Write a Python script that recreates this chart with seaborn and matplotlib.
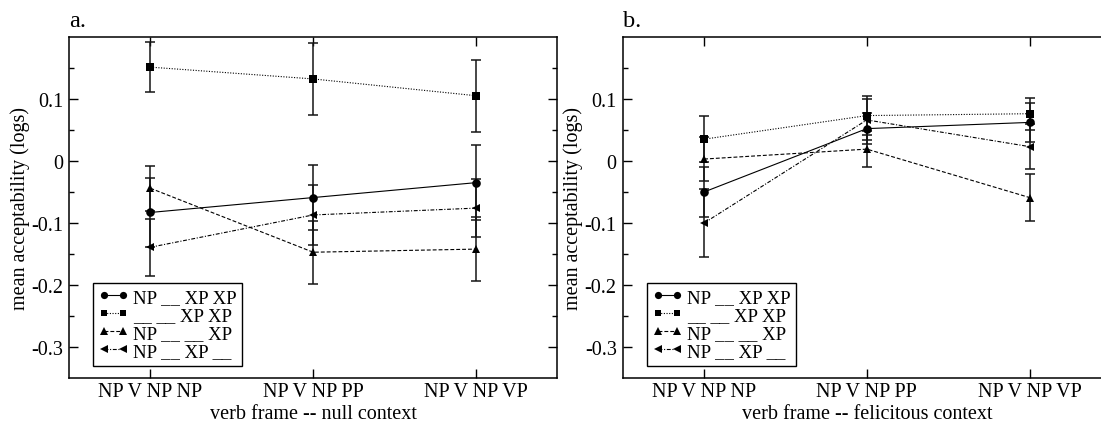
import matplotlib
matplotlib.use("Agg")
import matplotlib.pyplot as plt
from matplotlib.lines import Line2D
from matplotlib.ticker import FixedLocator
import pandas as pd
import seaborn as sns

# verb frames on the x axis
frames = ["NP V NP NP", "NP V NP PP", "NP V NP VP"]
# condition names (legend labels)
conditions = ["NP __ XP XP", "__ __ XP XP", "NP __ __ XP", "NP __ XP __"]
y_ticks = [-0.3, -0.2, -0.1, 0.0, 0.1]
y_tick_labels = ["-0.3", "-0.2", "-0.1", "0", "0.1"]

# a. null context: means and error-bar half widths
null_np_xp_xp = [-0.083, -0.059, -0.035]
null_np_xp_xp_err = [0.055, 0.053, 0.060]
null_xp_xp = [0.151, 0.132, 0.105]
null_xp_xp_err = [0.040, 0.058, 0.058]
null_np_xp = [-0.044, -0.147, -0.142]
null_np_xp_err = [0.036, 0.051, 0.052]
null_np_xp_gap = [-0.139, -0.087, -0.076]
null_np_xp_gap_err = [0.046, 0.048, 0.047]

# b. felicitous context: means and error-bar half widths
fel_np_xp_xp = [-0.050, 0.052, 0.062]
fel_np_xp_xp_err = [0.041, 0.025, 0.031]
fel_xp_xp = [0.035, 0.073, 0.076]
fel_xp_xp_err = [0.037, 0.032, 0.026]
fel_np_xp = [0.003, 0.019, -0.059]
fel_np_xp_err = [0.036, 0.029, 0.038]
fel_np_xp_gap = [-0.100, 0.066, 0.023]
fel_np_xp_gap_err = [0.055, 0.033, 0.036]

panels = [
    ("a.", "verb frame -- null context",
     [null_np_xp_xp, null_xp_xp, null_np_xp, null_np_xp_gap],
     [null_np_xp_xp_err, null_xp_xp_err, null_np_xp_err, null_np_xp_gap_err]),
    ("b.", "verb frame -- felicitous context",
     [fel_np_xp_xp, fel_xp_xp, fel_np_xp, fel_np_xp_gap],
     [fel_np_xp_xp_err, fel_xp_xp_err, fel_np_xp_err, fel_np_xp_gap_err]),
]

sns.set_theme(style="ticks", rc={
    "axes.edgecolor": "black",
    "axes.labelcolor": "black",
    "text.color": "black",
    "xtick.color": "black",
    "ytick.color": "black",
    "axes.linewidth": 1.1,
})
plt.rcParams["font.family"] = ["Liberation Serif", "DejaVu Serif"]

marker_map = dict(zip(conditions, ["o", "s", "^", "<"]))
dash_map = dict(zip(conditions, ["", (1, 1.4), (3.5, 1.8), (3.5, 1.5, 1, 1.5)]))
msize = {"o": 6.2, "s": 5.4, "^": 6.2, "<": 6.2}
leg_msize = {"o": 5.2, "s": 4.6, "^": 5.2, "<": 5.2}

FS = 14.5
fig = plt.figure(figsize=(11.01, 4.31), dpi=100)
W, H = 1101.0, 431.0
ax_w, ax_h = 488.3 / W, 341.6 / H
ax_b = 1 - 379.3 / H
axes = [fig.add_axes([69.0 / W, ax_b, ax_w, ax_h]),
        fig.add_axes([622.7 / W, ax_b, ax_w, ax_h])]

for ax, (tag, xlabel, means, errs) in zip(axes, panels):
    rows = []
    for cond, vals in zip(conditions, means):
        for fr, v in zip(frames, vals):
            rows.append({"frame": fr, "condition": cond, "value": v})
    df = pd.DataFrame(rows)

    # error bars behind the lines and markers
    for vals, err in zip(means, errs):
        ax.errorbar(frames, vals, yerr=err, fmt="none", ecolor="#151515",
                    elinewidth=1.1, capsize=3.4, capthick=1.1, zorder=1)

    sns.lineplot(data=df, x="frame", y="value", style="condition",
                 style_order=conditions, markers=marker_map, dashes=dash_map,
                 color="black", linewidth=0.8, markersize=6,
                 markeredgewidth=0, sort=False, legend=False, ax=ax, zorder=3)
    for line, cond in zip(ax.get_lines()[-len(conditions):], conditions):
        line.set_markersize(msize[marker_map[cond]])
        line.set_markerfacecolor("black")
        line.set_markeredgecolor("black")

    ax.set_xlim(-0.5, 2.5)
    ax.set_ylim(-0.35, 0.2)
    ax.set_yticks(y_ticks)
    ax.set_yticklabels(y_tick_labels)
    ax.yaxis.set_minor_locator(FixedLocator([-0.25, -0.15, -0.05, 0.05, 0.15]))
    ax.tick_params(axis="both", which="major", direction="in", top=True,
                   right=True, length=6.8, width=1.0, labelsize=FS)
    ax.tick_params(axis="y", which="minor", direction="in", left=True,
                   right=True, length=3.3, width=1.0)
    ax.tick_params(axis="x", which="major", pad=2.5)
    ax.tick_params(axis="y", which="major", pad=4.3)
    ax.set_xlabel(xlabel, fontsize=FS, labelpad=2)
    ax.set_ylabel("mean acceptability (logs)", fontsize=FS, labelpad=1)
    for sp in ax.spines.values():
        sp.set_visible(True)
        sp.set_linewidth(1.1)
        sp.set_color("black")

    ax.text(0.0, 1.031, tag, transform=ax.transAxes, ha="left",
            va="baseline", fontsize=17.5)

    handles = [Line2D([], [], color="black", linewidth=0.8,
                      linestyle="-" if dash_map[c] == "" else (0, dash_map[c]),
                      marker=marker_map[c], markersize=leg_msize[marker_map[c]],
                      markeredgewidth=0)
               for c in conditions]
    leg = ax.legend(handles, conditions, loc="lower left",
                    bbox_to_anchor=(0.049, 0.037), borderaxespad=0,
                    numpoints=2, handlelength=1.6, handletextpad=0.25,
                    labelspacing=0.05, borderpad=0.3, fontsize=13.5,
                    frameon=True, fancybox=False, framealpha=1,
                    edgecolor="black")
    leg.get_frame().set_linewidth(1.0)

fig.savefig("out.png", dpi=100, facecolor="white")
